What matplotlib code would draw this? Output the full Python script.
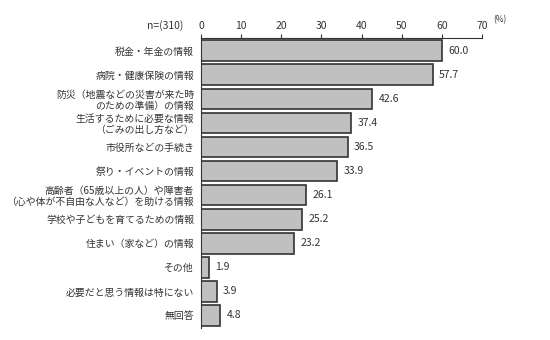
import matplotlib
matplotlib.use('Agg')
import matplotlib.pyplot as plt

plt.rcParams['font.family'] = ['Noto Sans CJK JP', 'DejaVu Sans']

# 項目と割合(%)
labels = ['税金・年金の情報',
          '病院・健康保険の情報',
          '防災（地震などの災害が来た時\nのための準備）の情報',
          '生活するために必要な情報\n（ごみの出し方など）',
          '市役所などの手続き',
          '祭り・イベントの情報',
          '高齢者（65歳以上の人）や障害者\n（心や体が不自由な人など）を助ける情報',
          '学校や子どもを育てるための情報',
          '住まい（家など）の情報',
          'その他',
          '必要だと思う情報は特にない',
          '無回答']
values = [60.0, 57.7, 42.6, 37.4, 36.5, 33.9, 26.1, 25.2, 23.2, 1.9, 3.9, 4.8]
xticks = [0, 10, 20, 30, 40, 50, 60, 70]

fig = plt.figure(figsize=(5.5, 3.4), dpi=100)
ax = fig.add_axes([0.3655, 0.035, 0.511, 0.853])

pos = range(len(values))
ax.barh(pos, values, height=0.86, color='#c0c0c0', edgecolor='#333333', linewidth=1.2)
for i, v in enumerate(values):
    ax.text(v + 1.6, i, f'{v:.1f}', va='center', ha='left', fontsize=7.5, color='#333333')

ax.set_ylim(len(values) - 0.475, -0.525)
ax.set_xlim(0, 70)
ax.set_yticks(list(pos))
ax.set_yticklabels(labels, fontsize=7.1, color='#333333', linespacing=1.15)
ax.tick_params(axis='y', length=0, pad=5)
ax.xaxis.tick_top()
ax.set_xticks(xticks)
ax.tick_params(axis='x', direction='out', length=3, labelsize=7.5, colors='#333333', pad=2)
for s in ['right', 'bottom']:
    ax.spines[s].set_visible(False)
ax.spines['top'].set_color('#333333')
ax.spines['left'].set_color('#333333')

fig.text(0.333, 0.925, 'n=(310)', ha='right', va='center', fontsize=7.5, color='#333333')
fig.text(0.897, 0.942, '(%)', ha='left', va='center', fontsize=6, color='#333333')

fig.savefig('out.png', dpi=100)
